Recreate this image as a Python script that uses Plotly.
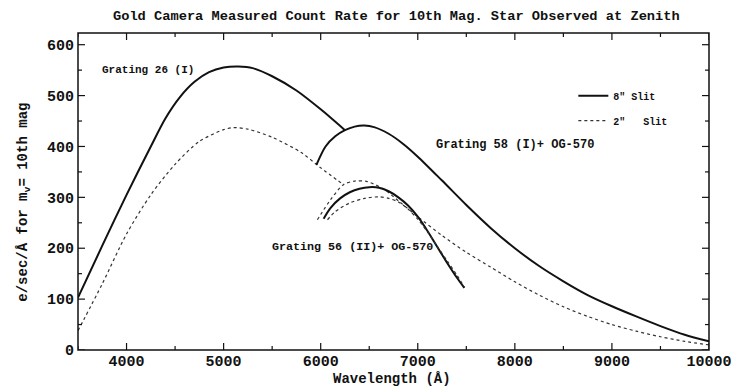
import plotly.graph_objects as go

# Grating 26 (I), first order, no filter
g26_wave8 = [3500, 3750, 4000, 4250, 4400, 4550, 4700, 4850, 5000, 5150, 5300, 5500, 5750, 6000, 6250]
g26_slit8 = [103, 205, 305, 400, 455, 497, 527, 546, 555, 557, 554, 538, 510, 473, 432]
g26_wave2 = [3500, 3750, 4000, 4250, 4500, 4750, 5000, 5100, 5250, 5500, 5800, 6000, 6234]
g26_slit2 = [38, 130, 228, 305, 365, 410, 433, 437, 434, 418, 388, 358, 325]

# Grating 58 (I) + OG-570
g58_wave8 = [5956, 6050, 6150, 6250, 6350, 6450, 6550, 6700, 6850, 7000, 7250, 7500, 7750,
             8000, 8250, 8500, 8750, 9000, 9250, 9500, 9750, 10000]
g58_slit8 = [364, 400, 420, 432, 439, 441, 438, 425, 405, 380, 333, 285, 240,
             200, 165, 135, 108, 86, 66, 47, 30, 17]
g58_wave2 = [5966, 6100, 6234, 6350, 6480, 6650, 6820, 7000, 7250, 7500, 7750,
             8000, 8250, 8500, 8750, 9000, 9250, 9500, 9750, 10000]
g58_slit2 = [256, 295, 325, 332, 331, 316, 290, 262, 225, 192, 163,
             134, 108, 85, 66, 50, 37, 26, 17, 10]

# Grating 56 (II) + OG-570
g56_wave8 = [6030, 6100, 6200, 6300, 6400, 6500, 6600, 6700, 6800, 6900, 7000, 7100, 7200, 7300, 7400, 7480]
g56_slit8 = [258, 279, 298, 310, 317, 320, 319, 312, 300, 284, 262, 234, 203, 172, 143, 122]
g56_wave2 = [6070, 6150, 6300, 6450, 6600, 6700, 6800, 6900, 7000, 7100, 7200, 7300, 7400, 7480]
g56_slit2 = [256, 272, 289, 298, 301, 298, 291, 277, 257, 232, 204, 176, 148, 124]

# Tick positions (labelled every other tick)
x_ticks = list(range(3500, 10001, 500))
x_labels = [str(v) if v % 1000 == 0 else "" for v in x_ticks]
y_ticks = list(range(0, 601, 50))
y_labels = [str(v) if v % 100 == 0 else "" for v in y_ticks]

FONT = "Liberation Mono"
INK = "#111111"
solid = dict(color=INK, width=2, shape="spline", smoothing=0.8)
dotted = dict(color="#333333", width=1.2, dash="dot", shape="spline", smoothing=0.8)

fig = go.Figure()
fig.add_trace(go.Scatter(x=g26_wave8, y=g26_slit8, mode="lines", line=solid,
                         name='8"\u00a0Slit', legendgroup="a"))
fig.add_trace(go.Scatter(x=g26_wave2, y=g26_slit2, mode="lines", line=dotted,
                         name='2"\u00a0\u00a0\u00a0Slit', legendgroup="b"))
fig.add_trace(go.Scatter(x=g58_wave8, y=g58_slit8, mode="lines", line=solid, showlegend=False))
fig.add_trace(go.Scatter(x=g58_wave2, y=g58_slit2, mode="lines", line=dotted, showlegend=False))
fig.add_trace(go.Scatter(x=g56_wave8, y=g56_slit8, mode="lines", line=solid, showlegend=False))
fig.add_trace(go.Scatter(x=g56_wave2, y=g56_slit2, mode="lines", line=dotted, showlegend=False))

labels = [
    (4219, 551, "Grating 26 (I)", 11),
    (8001, 402, "Grating 58 (I)+ OG-570", 12),
    (6330, 203, "Grating 56 (II)+ OG-570", 11.7),
]
for lx, ly, txt, sz in labels:
    fig.add_annotation(x=lx, y=ly, text=txt, showarrow=False,
                       font=dict(family=FONT, size=sz, color=INK, weight="bold"))

# Axis titles
fig.add_annotation(xref="paper", yref="paper", x=0.4976, y=-0.093, yanchor="middle",
                   text="Wavelength (Å)", showarrow=False,
                   font=dict(family=FONT, size=14, color=INK, weight="bold"))
fig.add_annotation(xref="paper", yref="paper", x=-0.086, y=0.467, xanchor="center",
                   yanchor="middle", textangle=-90,
                   text="e/sec/Å for m<sub>v</sub>= 10th mag", showarrow=False,
                   font=dict(family=FONT, size=14, color=INK, weight="bold"))

# Plot frame
fig.add_shape(type="rect", xref="paper", yref="paper", x0=0, x1=1, y0=0, y1=1,
              line=dict(color=INK, width=1.5), layer="above")

# Inward tick marks on all four sides
def tick_len(v, step):
    return 7 if v % step == 0 else 4

for v in x_ticks:
    n = tick_len(v, 1000)
    for anchor, sign in ((0, 1), (1, -1)):
        fig.add_shape(type="line", xref="x", yref="paper", ysizemode="pixel", yanchor=anchor,
                      x0=v, x1=v, y0=0, y1=sign * n, line=dict(color=INK, width=1.2),
                      layer="above")
for v in y_ticks:
    n = tick_len(v, 100)
    for anchor, sign in ((0, 1), (1, -1)):
        fig.add_shape(type="line", yref="y", xref="paper", xsizemode="pixel", xanchor=anchor,
                      y0=v, y1=v, x0=0, x1=sign * n, line=dict(color=INK, width=1.2),
                      layer="above")

axis_common = dict(
    showline=False, ticks="", showgrid=False, zeroline=False, automargin=False,
    tickfont=dict(family=FONT, size=15, color=INK, weight="bold"),
)

fig.update_xaxes(range=[3500, 10000], tickmode="array", tickvals=x_ticks, ticktext=x_labels,
                 ticklabelstandoff=0, **axis_common)
fig.update_yaxes(range=[0, 623], tickmode="array", tickvals=y_ticks, ticktext=y_labels,
                 ticklabelstandoff=3, **axis_common)

fig.update_layout(
    width=734, height=387,
    margin=dict(l=78, r=25, t=33, b=37),
    paper_bgcolor="white", plot_bgcolor="white",
    title=dict(text="Gold Camera Measured Count Rate for 10th Mag. Star Observed at Zenith",
               x=0.54, xanchor="center", y=0.961, yanchor="middle",
               font=dict(family=FONT, size=13.7, color=INK, weight="bold")),
    legend=dict(x=0.785, y=0.848, xanchor="left", yanchor="top",
                bgcolor="rgba(0,0,0,0)", tracegroupgap=6,
                font=dict(family=FONT, size=10, color=INK, weight="bold")),
)

fig.write_html("out.html")
